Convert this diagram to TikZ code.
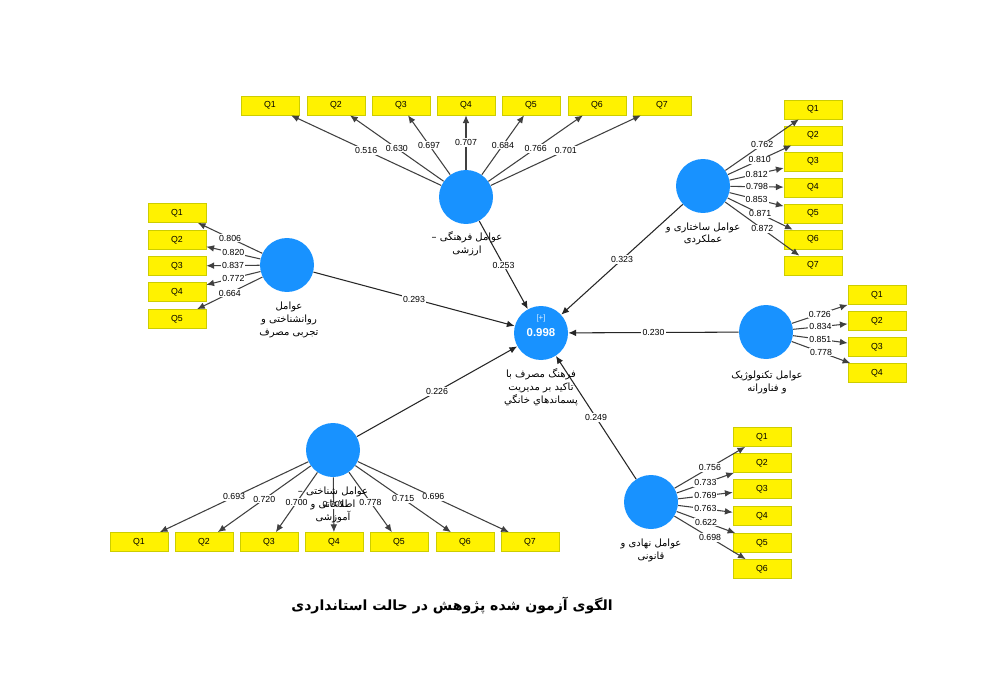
\documentclass[tikz,border=0pt]{standalone}
\usepackage{fontspec}
\setmainfont{Liberation Sans}
\newfontfamily\fafont[Script=Arabic]{DejaVu Sans}
\usetikzlibrary{arrows.meta}
\TeXXeTstate=1
\definecolor{lvblue}{RGB}{24,146,255}
\definecolor{itemborder}{RGB}{205,205,0}
\newcommand{\rtline}[1]{\beginR#1\endR}

\begin{document}
\begin{tikzpicture}[x=0.02cm, y=-0.02cm, >={Latex[length=4.4pt,width=3.8pt]}]

    % Styles
    \tikzstyle{construct} = [circle, fill=lvblue, minimum size=1.08cm, inner sep=0pt]
    \tikzstyle{item} = [rectangle, draw=itemborder, fill=yellow, minimum width=1.16cm, minimum height=0.38cm, inner sep=0pt, font=\fontsize{5}{6}\selectfont]
    \tikzstyle{loading} = [->, draw=black!75, line width=0.6pt]
    \tikzstyle{structural} = [->, draw=black!85, line width=0.6pt]
    \tikzstyle{weight} = [fill=white, inner sep=0.6pt, font=\fontsize{5}{6}\selectfont]
    \tikzstyle{falabel} = [align=center, inner sep=0pt, font=\fafont\fontsize{5.7}{7.3}\selectfont]

    \fill[white] (0,0) rectangle (982,696);

    % Constructs
    \node[construct] (Cul) at (466,197) {};
    \node[construct] (Psy) at (287,265) {};
    \node[construct, text=white, font=\bfseries\fontsize{6.5}{7}\selectfont] (Cons) at (541,333) {0.998};
    \node[text=white!85!lvblue, font=\fontsize{4.5}{5}\selectfont, inner sep=0pt] (ConsPlus) at (541,318) {[+]};
    \node[construct] (Str) at (703,186) {};
    \node[construct] (Tec) at (766,332) {};
    \node[construct] (Cog) at (333,450) {};
    \node[construct] (Ins) at (651,502) {};

    % Indicators
    \foreach \i/\x in {1/270,2/336,3/401,4/466,5/531,6/597,7/662}
        \node[item] (Cul\i) at (\x,105.5) {Q\i};
    \foreach \i/\y in {1/213,2/240,3/266,4/292,5/319}
        \node[item] (Psy\i) at (177,\y) {Q\i};
    \foreach \i/\y in {1/109.5,2/135.5,3/161.5,4/187.5,5/213.5,6/239.5,7/265.5}
        \node[item] (Str\i) at (813,\y) {Q\i};
    \foreach \i/\y in {1/295,2/321,3/347,4/373}
        \node[item] (Tec\i) at (877,\y) {Q\i};
    \foreach \i/\x in {1/139,2/204,3/269,4/334,5/399,6/465,7/530}
        \node[item] (Cog\i) at (\x,542) {Q\i};
    \foreach \i/\y in {1/437,2/463,3/489,4/516,5/543,6/569}
        \node[item] (Ins\i) at (762,\y) {Q\i};

    % Outer loadings
    \foreach \i/\w in {1/0.516,2/0.630,3/0.697,4/0.707,5/0.684,6/0.766,7/0.701}
        \draw[loading] (Cul) -- node[weight] {\w} (Cul\i);
    \foreach \i/\w in {1/0.806,2/0.820,3/0.837,4/0.772,5/0.664}
        \draw[loading] (Psy) -- node[weight] {\w} (Psy\i);
    \foreach \i/\w in {1/0.762,2/0.810,3/0.812,4/0.798,5/0.853,6/0.871,7/0.872}
        \draw[loading] (Str) -- node[weight] {\w} (Str\i);
    \foreach \i/\w in {1/0.726,2/0.834,3/0.851,4/0.778}
        \draw[loading] (Tec) -- node[weight] {\w} (Tec\i);
    \foreach \i/\w in {1/0.693,2/0.720,3/0.700,4/0.701,5/0.778,6/0.715,7/0.696}
        \draw[loading] (Cog) -- node[weight] {\w} (Cog\i);
    \foreach \i/\w in {1/0.756,2/0.733,3/0.769,4/0.763,5/0.622,6/0.698}
        \draw[loading] (Ins) -- node[weight] {\w} (Ins\i);

    % Path coefficients
    \draw[structural] (Cul) -- node[weight] {0.253} (Cons);
    \draw[structural] (Psy) -- node[weight] {0.293} (Cons);
    \draw[structural] (Str) -- node[weight] {0.323} (Cons);
    \draw[structural] (Tec) -- node[weight] {0.230} (Cons);
    \draw[structural] (Cog) -- node[weight] {0.226} (Cons);
    \draw[structural] (Ins) -- node[weight] {0.249} (Cons);

    % Construct names
    \node[falabel] (CulName) at (467,244) {\rtline{عوامل فرهنگی –}\\\rtline{ارزشی}};
    \node[falabel] (PsyName) at (289,320) {\rtline{عوامل}\\\rtline{روانشناختی و}\\\rtline{تجربی مصرف}};
    \node[falabel] (ConsName) at (541,387) {\rtline{فرهنگ مصرف با}\\\rtline{تاکید بر مدیریت}\\\rtline{پسماندهاي خانگي}};
    \node[falabel] (StrName) at (703,234) {\rtline{عوامل ساختاری و}\\\rtline{عملکردی}};
    \node[falabel] (TecName) at (767,382) {\rtline{عوامل تکنولوژیک}\\\rtline{و فناورانه}};
    \node[falabel] (CogName) at (333,505) {\rtline{عوامل شناختی –}\\\rtline{اطلاعاتی و}\\\rtline{آموزشی}};
    \node[falabel] (InsName) at (651,550) {\rtline{عوامل نهادی و}\\\rtline{قانونی}};

    % Caption
    \node[font=\fafont\bfseries\fontsize{8}{10}\selectfont] (Caption) at (452,605) {\rtline{الگوی آزمون شده پژوهش در حالت استانداردی}};

\end{tikzpicture}
\end{document}
